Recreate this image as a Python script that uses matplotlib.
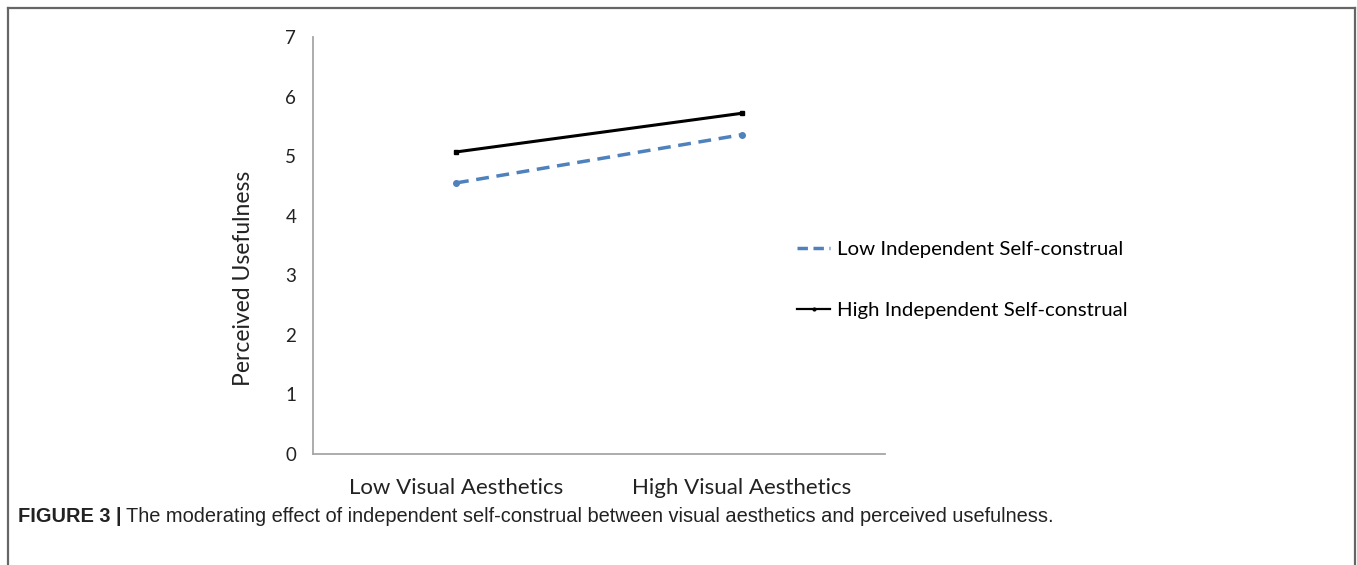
import matplotlib
matplotlib.use("Agg")
import matplotlib.pyplot as plt
from matplotlib.lines import Line2D

categories = ["Low Visual Aesthetics", "High Visual Aesthetics"]
low_indep = [4.55, 5.36]
high_indep = [5.07, 5.72]
series_labels = ["Low Independent Self-construal", "High Independent Self-construal"]
y_ticks = [0, 1, 2, 3, 4, 5, 6, 7]

chart_font = ["Lato", "DejaVu Sans"]
cap_font = ["Liberation Sans", "DejaVu Sans"]

W, H = 1357, 565
fig = plt.figure(figsize=(W / 100, H / 100), dpi=100)

# outer frame (open at the bottom)
for xs, ys in [([8, 8], [565, 8]), ([8, 1355], [8, 8]), ([1355, 1355], [8, 565])]:
    fig.add_artist(Line2D([x / W for x in xs], [1 - y / H for y in ys],
                          color="#666666", lw=1.6))

ax = fig.add_axes([313 / W, 1 - 454 / H, (885 - 313) / W, (454 - 37) / H])
x = list(range(len(categories)))
blue = "#4F81BD"
ax.plot(x, low_indep, color=blue, lw=2.5, ls=(0, (3.7, 2.2)),
        dash_capstyle="butt", marker="o", ms=4)
ax.plot(x, high_indep, color="black", lw=2.2, marker="s", ms=3)

ax.set_xlim(-0.5, 1.5)
ax.set_ylim(0, 7)
ax.set_yticks(y_ticks)
ax.set_xticks(x)
ax.set_xticklabels(categories, fontsize=16, family=chart_font, color="#222222")
for lab in ax.get_yticklabels():
    lab.set_fontsize(13.5)
    lab.set_family(chart_font)
    lab.set_color("#222222")
ax.tick_params(length=0, axis="y", pad=12)
ax.tick_params(length=0, axis="x", pad=17)
for s in ["top", "right"]:
    ax.spines[s].set_visible(False)
for s in ["left", "bottom"]:
    ax.spines[s].set_color("#A6A6A6")
    ax.spines[s].set_linewidth(1.3)
ax.set_ylabel("Perceived Usefulness", fontsize=16.5, family=chart_font,
              color="#222222", va="center")
ax.yaxis.set_label_coords(-0.121, 0.42)

handles = [
    Line2D([], [], color=blue, lw=2.5, ls=(0, (3.0, 1.6)), dash_capstyle="butt"),
    Line2D([], [], color="black", lw=1.6, marker="o", ms=2, markevery=[1]),
]
fig.legend(handles, series_labels, loc="center left",
           bbox_to_anchor=(779 / W, 1 - 280 / H),
           frameon=False, prop={"family": chart_font, "size": 14.7},
           labelspacing=2.15, handlelength=1.6, handletextpad=0.35)

# caption
t1 = fig.text(18 / W, 1 - 517 / H, "FIGURE 3 |", fontsize=14.4, weight="bold",
              family=cap_font, va="center", color="#222222")
fig.canvas.draw()
bb = t1.get_window_extent()
fig.text(bb.x1 / W + 5 / W, 1 - 517 / H,
         "The moderating effect of independent self-construal between visual aesthetics and perceived usefulness.",
         fontsize=14.4, family=cap_font, va="center", color="#222222")

fig.savefig("out.png", dpi=100)
